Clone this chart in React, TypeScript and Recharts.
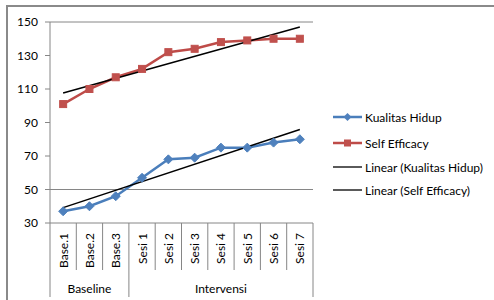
import React from 'react';
import { LineChart, Line, XAxis, YAxis, ReferenceLine, Legend } from 'recharts';

// ---- data ----
const categories = ['Base.1', 'Base.2', 'Base.3', 'Sesi 1', 'Sesi 2', 'Sesi 3', 'Sesi 4', 'Sesi 5', 'Sesi 6', 'Sesi 7'];
const kualitasHidup = [37, 40, 46, 57, 68, 69, 75, 75, 78, 80];
const selfEfficacy = [101, 110, 117, 122, 132, 134, 138, 139, 140, 140];
// linear trendline end values (first category, last category)
const trendKualitasHidup = [39.2, 85.8];
const trendSelfEfficacy = [107.6, 147.0];
const yTicks = [30, 50, 70, 90, 110, 130, 150];
const gridValues = [50, 150];
const groupLabels = ['Baseline', 'Intervensi'];
const groupStarts = [0, 3];
const groupEnds = [2, 9];
const legendLabels = ['Kualitas Hidup', 'Self Efficacy', 'Linear (Kualitas Hidup)', 'Linear (Self Efficacy)'];

// ---- styles ----
const FONT = 'Lato, "Open Sans", sans-serif';
const W = 494;
const H = 300;
const MARGIN = { top: 22, right: 181, bottom: 0, left: 0 };
const Y_AXIS_W = 50;
const X_AXIS_H = 77;
const BAND = (W - MARGIN.right - MARGIN.left - Y_AXIS_W) / categories.length;
const BLUE = '#4A7EBB';
const BLUE_M = '#4F81BD';
const RED = '#BE4B48';
const RED_M = '#C0504D';
const AXIS = '#868686';

const data = categories.map((c, i) => ({ name: c, kh: kualitasHidup[i], se: selfEfficacy[i] }));

const Diamond = (props: any) => {
  const { cx, cy } = props;
  if (cx == null || cy == null) return null;
  const r = 4.5;
  return <polygon points={`${cx},${cy - r} ${cx + r},${cy} ${cx},${cy + r} ${cx - r},${cy}`} fill={BLUE_M} stroke={BLUE_M} />;
};

const Square = (props: any) => {
  const { cx, cy } = props;
  if (cx == null || cy == null) return null;
  const s = 7;
  return <rect x={cx - s / 2} y={cy - s / 2} width={s} height={s} fill={RED_M} stroke={RED_M} />;
};

const XTick = (props: any) => {
  const { x, y, payload } = props;
  const idx: number = props.index ?? categories.indexOf(payload.value);
  const half = BAND / 2;
  const left = x - half;
  const right = x + half;
  const isGroupStart = groupStarts.includes(idx);
  const last = idx === categories.length - 1;
  const gi = groupStarts.indexOf(idx);
  return (
    <g>
      <text
        x={x}
        y={y + 10}
        transform={`rotate(-90, ${x}, ${y + 10})`}
        textAnchor="end"
        dominantBaseline="central"
        fontSize={12}
        fontFamily={FONT}
        fill="#000"
      >
        {payload.value}
      </text>
      <line x1={left} x2={left} y1={y} y2={isGroupStart ? y + 74 : y + 47} stroke={AXIS} strokeWidth={1} />
      {last && <line x1={right} x2={right} y1={y} y2={y + 74} stroke={AXIS} strokeWidth={1} />}
      {gi >= 0 && (
        <text
          x={x + ((groupStarts[gi] + groupEnds[gi]) / 2 - idx) * BAND}
          y={y + 65}
          textAnchor="middle"
          dominantBaseline="central"
          fontSize={12}
          fontFamily={FONT}
          fill="#000"
        >
          {groupLabels[gi]}
        </text>
      )}
    </g>
  );
};

const LegendContent = () => {
  const rowTops = [0, 26, 50, 73];
  return (
    <div style={{ position: 'relative', width: 161, height: 90, fontFamily: FONT, fontSize: 12, color: '#000' }}>
      {legendLabels.map((label, i) => (
        <div key={label} style={{ position: 'absolute', left: 0, top: rowTops[i], height: 16, display: 'flex', alignItems: 'center', whiteSpace: 'nowrap' }}>
          <svg width={30} height={12} style={{ marginRight: 2 }}>
            {i === 0 && (
              <>
                <line x1={0} x2={29} y1={6} y2={6} stroke={BLUE} strokeWidth={2.5} />
                <polygon points="14.5,2 18.5,6 14.5,10 10.5,6" fill={BLUE_M} />
              </>
            )}
            {i === 1 && (
              <>
                <line x1={0} x2={29} y1={6} y2={6} stroke={RED} strokeWidth={2.5} />
                <rect x={11} y={2.5} width={7} height={7} fill={RED_M} />
              </>
            )}
            {i >= 2 && <line x1={0} x2={29} y1={6} y2={6} stroke="#000" strokeWidth={1.3} />}
          </svg>
          <span>{label}</span>
        </div>
      ))}
    </div>
  );
};

export default function App() {
  return (
    <div style={{ position: 'absolute', left: 0, top: 0, width: W, height: H, background: '#fff', fontFamily: FONT, overflow: 'hidden' }}>
      <div style={{ position: 'absolute', left: 6, top: 5, width: W, height: H, borderTop: '2px solid #8a8a8a', borderLeft: '2px solid #8a8a8a' }} />
      <LineChart width={W} height={H} data={data} margin={MARGIN} style={{ position: 'absolute', left: 0, top: 0 }}>
        {gridValues.map((v) => (
          <ReferenceLine key={v} y={v} stroke={AXIS} strokeWidth={1} ifOverflow="extendDomain" />
        ))}
        <XAxis
          dataKey="name"
          scale="band"
          height={X_AXIS_H}
          interval={0}
          tickSize={0}
          tickMargin={0}
          tickLine={false}
          axisLine={{ stroke: AXIS }}
          tick={<XTick />}
        />
        <YAxis
          width={Y_AXIS_W}
          domain={[30, 150]}
          ticks={yTicks}
          interval={0}
          tickSize={5}
          tickMargin={7}
          axisLine={{ stroke: AXIS }}
          tickLine={{ stroke: AXIS }}
          tick={{ fontSize: 12, fill: '#000', fontFamily: FONT }}
        />
        <Line dataKey="kh" stroke={BLUE} strokeWidth={2.5} dot={<Diamond />} activeDot={false} isAnimationActive={false} />
        <Line dataKey="se" stroke={RED} strokeWidth={2.5} dot={<Square />} activeDot={false} isAnimationActive={false} />
        <ReferenceLine
          segment={[
            { x: categories[0], y: trendKualitasHidup[0] },
            { x: categories[categories.length - 1], y: trendKualitasHidup[1] },
          ]}
          stroke="#000"
          strokeWidth={1.5}
        />
        <ReferenceLine
          segment={[
            { x: categories[0], y: trendSelfEfficacy[0] },
            { x: categories[categories.length - 1], y: trendSelfEfficacy[1] },
          ]}
          stroke="#000"
          strokeWidth={1.5}
        />
        <Legend
          layout="vertical"
          align="center"
          verticalAlign="middle"
          content={<LegendContent />}
          wrapperStyle={{ left: 333, top: 109, width: 161, height: 90 }}
        />
      </LineChart>
    </div>
  );
}
